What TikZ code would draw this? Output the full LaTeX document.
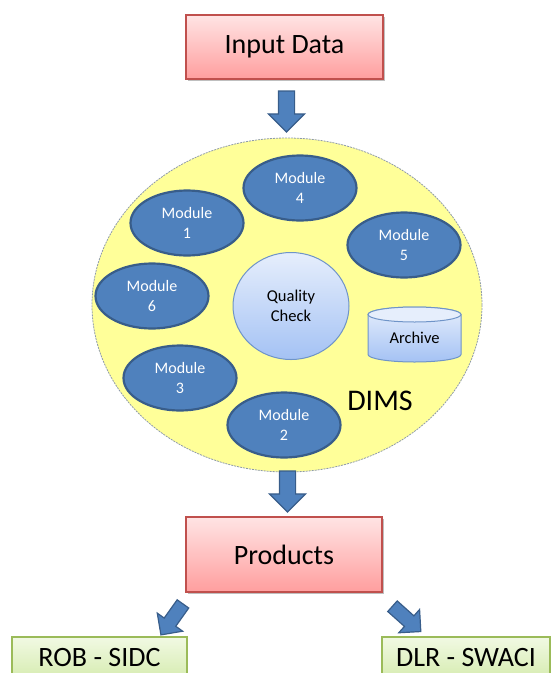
\documentclass[tikz,border=0pt]{standalone}
\usepackage{fontspec}
\setmainfont{Carlito}
\usetikzlibrary{shapes.geometric,shapes.arrows,shadows}
\definecolor{pinktop}{HTML}{FFE4E4}
\definecolor{pinkbot}{HTML}{FF9E9E}
\definecolor{boxred}{HTML}{C0504D}
\definecolor{greentop}{HTML}{F1F9E3}
\definecolor{greenbot}{HTML}{D6ECB0}
\definecolor{boxgreen}{HTML}{9BBB59}
\definecolor{modblue}{HTML}{4F81BD}
\definecolor{modborder}{HTML}{385D8A}
\definecolor{dimsyellow}{HTML}{FFFF99}
\definecolor{dimsborder}{HTML}{8E9AAA}
\definecolor{qctop}{HTML}{E6EEFC}
\definecolor{qcbot}{HTML}{A4C2F4}
\definecolor{qcborder}{HTML}{6F94C8}
\begin{document}
\begin{tikzpicture}[x=1pt,y=1pt,
  pinkbox/.style={rectangle, draw=boxred, line width=1.2pt, top color=pinktop, bottom color=pinkbot,
    inner sep=0pt, font=\fontsize{28}{32}\selectfont,
    drop shadow={shadow xshift=1.5pt, shadow yshift=-1.5pt, opacity=0.25, fill=black}},
  greenbox/.style={rectangle, draw=boxgreen, line width=1.2pt, top color=greentop, bottom color=greenbot,
    inner sep=0pt, font=\fontsize{28}{32}\selectfont},
  modnode/.style={ellipse, draw=modborder, line width=2.2pt, fill=modblue, text=white, align=center,
    inner sep=0pt, minimum width=113pt, minimum height=65pt, font=\fontsize{16}{19.5}\selectfont},
  blockarrow/.style={single arrow, draw=modborder, fill=modblue, line width=1.2pt, inner sep=0pt,
    single arrow head indent=0pt},
  downarrow/.style={blockarrow, minimum height=41pt, single arrow head extend=10pt, rotate=-90},
  diagarrow/.style={blockarrow, minimum height=38pt, single arrow head extend=8.5pt}
]
\useasboundingbox (0,0) rectangle (552,-673);

% Input box
\node[pinkbox, minimum width=197pt, minimum height=64pt] (input) at (284.5,-47) {Input Data};
\node[downarrow] (arr1) at (286.5,-107.5) {\rule{0pt}{15pt}};

% DIMS ellipse
\node[ellipse, draw=dimsborder, line width=0.8pt, dash pattern=on 2pt off 1pt, fill=dimsyellow,
  minimum width=390pt, minimum height=334pt, inner sep=0pt] (dims) at (287,-305) {};

% Modules
\node[modnode] (m4) at (300,-188) {Module\\4};
\node[modnode] (m1) at (187,-223) {Module\\1};
\node[modnode] (m5) at (404,-245) {Module\\5};
\node[modnode] (m6) at (152,-296) {Module\\6};
\node[modnode] (m3) at (180,-378) {Module\\3};
\node[modnode] (m2) at (284,-425) {Module\\2};

% Quality check
\node[ellipse, draw=qcborder, line width=1pt, top color=qctop, bottom color=qcbot, align=center,
  minimum width=116pt, minimum height=107pt, inner sep=0pt, font=\fontsize{16.5}{19.5}\selectfont]
  (qc) at (291,-306) {Quality\\Check};

% Archive cylinder
\path[draw=qcborder, line width=1pt, top color=qctop, bottom color=qcbot]
  (368,-314.5) -- (368,-354.5) arc[start angle=180, end angle=360, x radius=46.5, y radius=7.5]
  -- (461,-314.5) arc[start angle=0, end angle=180, x radius=46.5, y radius=7.5] -- cycle;
\draw[qcborder, line width=1pt, fill=qctop] (414.5,-314.5) ellipse[x radius=46.5, y radius=7.5];
\node[font=\fontsize{16.5}{19.5}\selectfont, inner sep=0pt] (archive) at (414.5,-338) {Archive};

% DIMS label
\node[font=\fontsize{30}{34}\selectfont, inner sep=0pt] (dimslabel) at (380,-401) {DIMS};

\node[downarrow] (arr2) at (287.5,-487.5) {\rule{0pt}{15pt}};

% Products
\node[pinkbox, minimum width=196pt, minimum height=75pt] (products) at (284,-554.5) {Products};

\node[diagarrow, rotate=234.6] (arr3) at (174,-616.5) {\rule{0pt}{13pt}};
\node[diagarrow, rotate=-41.8] (arr4) at (404,-616.5) {\rule{0pt}{13pt}};

\node[greenbox, minimum width=175pt, minimum height=42pt] (rob) at (99.5,-658) {ROB - SIDC};
\node[greenbox, minimum width=168pt, minimum height=42pt] (dlr) at (466,-658) {DLR - SWACI};
\end{tikzpicture}
\end{document}
